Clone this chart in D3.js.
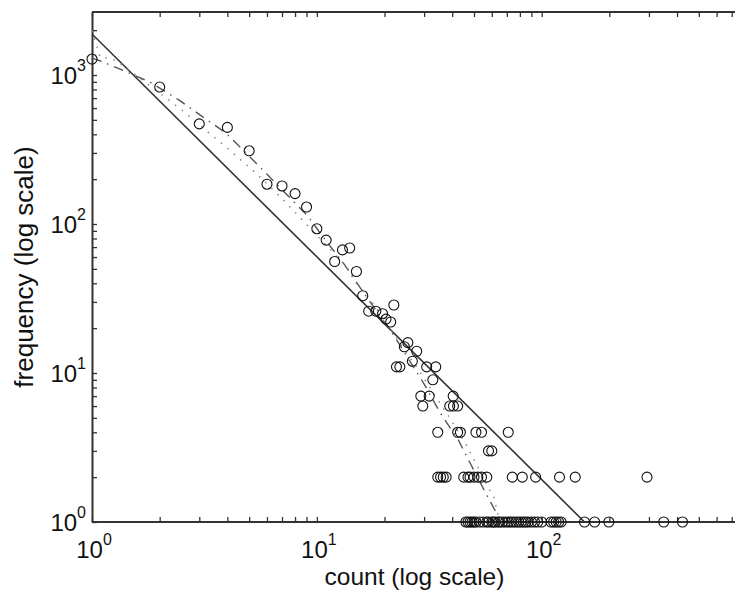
<!DOCTYPE html>
<html><head><meta charset="utf-8">
<script src="https://cdn.jsdelivr.net/npm/d3@7"></script>
<style>
html,body{margin:0;padding:0;background:#fff;}
svg{display:block;}
text{font-family:"Liberation Sans",Arial,Helvetica,sans-serif;fill:#111;}
</style></head>
<body>
<svg id="chart" width="735" height="592"></svg>
<script>
// ---- data ----
const obsCount = [1,2,3,4,5,6,7,8,9,10,11,12,13,14,15,16,
  17,18.3,19.6,20.3,21.3,22,
  24.5,25.4,27.8,26.6,22.6,23.4,30.8,33.8,32.8,
  29,31.6,40.4,29.6,39,40.5,42.3,
  34.5,42.3,43.5,51,54,71,58,60,
  34.5,35.5,36.5,37.6,45,47,48,50,52,54,57,74,82,94,120,141,294,
  46,47,48,49,50,51,53,55,57,58,60,61,62,64,65,67,69,71,73,75,77,79,81,83,85,87,90,93,96,100,110,113,116,119,122,155,172,199,349,423];
const obsFreq = [1280,830,470,445,310,185,180,160,130,93,78,56,67,69,48,33,
  26,26,25,23,22,28.6,
  15,16,14,12,11,11,11,11,9,
  7,7,7,6,6,6,6,
  4,4,4,4,4,4,3,3,
  2,2,2,2,2,2,2,2,2,2,2,2,2,2,2,2,2,
  1,1,1,1,1,1,1,1,1,1,1,1,1,1,1,1,1,1,1,1,1,1,1,1,1,1,1,1,1,1,1,1,1,1,1,1,1,1,1,1];

// solid power-law fit (end points)
const fitSolidX = [1, 155];
const fitSolidY = [1885, 1];

// dash-dot fit curve
const fitDashX = [1, 1.09, 1.43, 1.81, 2.44, 3.02, 3.94, 5.04, 6.05, 9.12, 10.9, 13.2, 15.5, 22.2, 30.2, 35.2, 42.8, 48.3, 55.8, 62.5, 63.7];
const fitDashY = [1300, 1242, 1047, 897, 679, 540, 408, 282, 213, 113, 78.2, 54, 37.8, 17.5, 8.3, 5.47, 3.5, 2.45, 1.61, 1.17, 1];

// dotted fit curve
const fitDotX = [1, 1.09, 1.21, 1.33, 2.11, 2.51, 3.28, 3.9, 4.64, 5.47, 6.98, 13.6, 14.8, 17.2, 28.7, 34.5, 39.0, 46.9, 48.9, 52.0, 57.5, 61.2, 65.0];
const fitDotY = [2000, 1300, 1300, 1202, 711, 582, 414, 333, 265, 213, 149, 51.4, 40.8, 31.4, 10.2, 6.6, 5.0, 3.18, 2.77, 2.34, 1.72, 1.49, 1];

const xMajor = [1, 10, 100];
const yMajor = [1, 10, 100, 1000];
const xTitle = "count (log scale)";
const yTitle = "frequency (log scale)";

// ---- chart ----
const svg = d3.select("#chart");
const L = 92, R = 741, T = 12, B = 522;
const x = d3.scaleLog().domain([1, 770]).range([L, R]);
const y = d3.scaleLog().domain([1, 2648]).range([B, T]);

function allTicks(dom){
  const t=[];
  for(let d=1; d<=1000; d*=10){ for(let k=1;k<10;k++){ const v=d*k; if(v>=dom[0]&&v<=dom[1]) t.push(v);} }
  return t;
}
const xt = allTicks(x.domain()), yt = allTicks(y.domain());
const axisColor = "#333";

const gx = svg.append("g").attr("transform",`translate(0,${B})`)
  .call(d3.axisBottom(x).tickValues(xt).tickFormat("").tickSizeInner(-5).tickSizeOuter(0));
const gxt = svg.append("g").attr("transform",`translate(0,${T})`)
  .call(d3.axisTop(x).tickValues(xt).tickFormat("").tickSizeInner(-5).tickSizeOuter(0));
const gy = svg.append("g").attr("transform",`translate(${L},0)`)
  .call(d3.axisLeft(y).tickValues(yt).tickFormat("").tickSizeInner(-5).tickSizeOuter(0));
const gyr = svg.append("g").attr("transform",`translate(${R},0)`)
  .call(d3.axisRight(y).tickValues(yt).tickFormat("").tickSizeInner(-5).tickSizeOuter(0));
[gx,gxt,gy,gyr].forEach(g=>{
  g.select(".domain").attr("stroke",axisColor).attr("stroke-width",2);
  g.selectAll(".tick line").attr("stroke",axisColor).attr("stroke-width",1.3);
});
gx.select(".domain").attr("d",`M${L},0H${R}`);
gxt.select(".domain").attr("d",`M${L},0H${R}`);

// tick labels with superscripts
function pow10Label(g, v, px, py, anchor){
  const e = Math.round(Math.log10(v));
  const t = g.append("text").attr("x",px).attr("y",py).attr("text-anchor",anchor).style("font-size","24px");
  t.append("tspan").text("10");
  t.append("tspan").attr("dy",-13).style("font-size","16px").text(String(e));
}
const lab = svg.append("g");
xMajor.forEach(v=>pow10Label(lab, v, x(v)+2, B+36, "middle"));
yMajor.forEach(v=>pow10Label(lab, v, L-6, y(v)+9, "end"));

// titles
svg.append("text").attr("x",(L+R)/2 - 2).attr("y",585).attr("text-anchor","middle")
  .style("font-size","24.5px").text(xTitle);
svg.append("text").attr("transform",`translate(33,${(T+B)/2}) rotate(-90)`).attr("text-anchor","middle")
  .style("font-size","26px").text(yTitle);

// fit lines
svg.append("defs").append("clipPath").attr("id","pc").append("rect")
  .attr("x",L).attr("y",T).attr("width",R-L).attr("height",B-T);
const plot = svg.append("g").attr("clip-path","url(#pc)");
const line = d3.line().x(d=>x(d[0])).y(d=>y(d[1]));
plot.append("path").datum(d3.zip(fitSolidX, fitSolidY)).attr("d",line)
  .attr("fill","none").attr("stroke","#333").attr("stroke-width",1.6);
plot.append("path").datum(d3.zip(fitDashX, fitDashY)).attr("d",line)
  .attr("fill","none").attr("stroke","#555").attr("stroke-width",1.4).attr("stroke-dasharray","10,6,1.5,6");
plot.append("path").datum(d3.zip(fitDotX, fitDotY)).attr("d",line)
  .attr("fill","none").attr("stroke","#888").attr("stroke-width",1.5).attr("stroke-dasharray","1.5,7");

// observed points
svg.append("g").selectAll("circle").data(d3.zip(obsCount, obsFreq)).join("circle")
  .attr("cx",d=>x(d[0])).attr("cy",d=>y(d[1])).attr("r",5)
  .attr("fill","none").attr("stroke","#111").attr("stroke-width",1.1);
</script>
</body></html>
